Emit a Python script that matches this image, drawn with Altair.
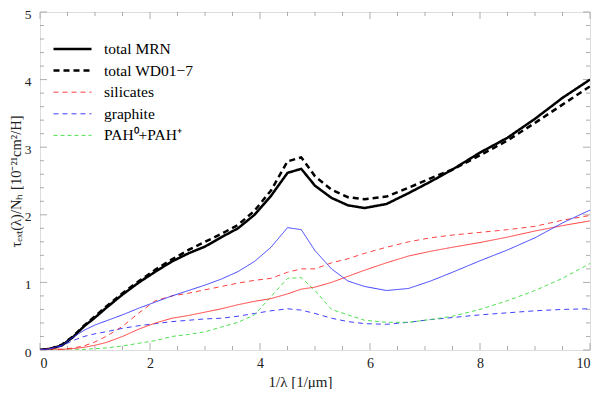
import altair as alt
import pandas as pd

xs = [0, 0.2, 0.4, 0.6, 0.8, 1.0, 1.2, 1.5, 1.8, 2.1, 2.4, 2.7, 3.0, 3.3, 3.6, 3.9,
      4.2, 4.5, 4.75, 5.0, 5.3, 5.6, 5.9, 6.3, 6.7, 7.1, 7.5, 8.0, 8.5, 9.0, 9.5, 10]

total_mrn = [0, 0.02, 0.07, 0.19, 0.35, 0.48, 0.62, 0.82, 1.0, 1.16, 1.31, 1.43, 1.53, 1.67,
             1.8, 2.0, 2.28, 2.62, 2.68, 2.43, 2.25, 2.14, 2.10, 2.16, 2.32, 2.49, 2.67, 2.92,
             3.14, 3.42, 3.73, 4.0]
total_wd = [0, 0.02, 0.08, 0.2, 0.36, 0.5, 0.64, 0.84, 1.02, 1.19, 1.34, 1.48, 1.6, 1.72,
            1.85, 2.06, 2.36, 2.79, 2.85, 2.57, 2.37, 2.26, 2.23, 2.27, 2.4, 2.54, 2.67, 2.88,
            3.1, 3.36, 3.63, 3.9]
sil_mrn = [0, 0.02, 0.01, 0.02, 0.04, 0.07, 0.11, 0.2, 0.31, 0.4, 0.47, 0.51, 0.56, 0.61,
           0.67, 0.72, 0.76, 0.83, 0.9, 0.93, 1.0, 1.09, 1.18, 1.29, 1.39, 1.46, 1.52, 1.59,
           1.67, 1.76, 1.84, 1.91]
sil_wd = [0, 0.0, 0.01, 0.03, 0.06, 0.12, 0.2, 0.35, 0.55, 0.73, 0.8, 0.84, 0.89, 0.94,
          0.99, 1.03, 1.06, 1.15, 1.2, 1.2, 1.29, 1.35, 1.43, 1.52, 1.6, 1.66, 1.7, 1.74,
          1.78, 1.83, 1.92, 1.99]
gra_mrn = [0, 0.02, 0.07, 0.19, 0.29, 0.37, 0.43, 0.52, 0.62, 0.71, 0.8, 0.88, 0.96, 1.05,
           1.16, 1.31, 1.52, 1.81, 1.78, 1.47, 1.2, 1.02, 0.94, 0.88, 0.91, 1.02, 1.15, 1.32,
           1.48, 1.66, 1.88, 2.07]
gra_wd = [0, 0.02, 0.06, 0.14, 0.2, 0.24, 0.27, 0.32, 0.36, 0.39, 0.42, 0.44, 0.46, 0.47,
          0.5, 0.54, 0.58, 0.61, 0.59, 0.54, 0.47, 0.42, 0.39, 0.38, 0.41, 0.45, 0.48, 0.52,
          0.55, 0.58, 0.6, 0.61]
pah = [0, 0, 0, 0, 0.01, 0.02, 0.03, 0.06, 0.1, 0.14, 0.2, 0.23, 0.27, 0.34, 0.41, 0.52,
       0.79, 1.06, 1.07, 0.88, 0.6, 0.52, 0.44, 0.41, 0.41, 0.45, 0.5, 0.6, 0.73, 0.88,
       1.06, 1.28]

series = [
    ("total MRN", total_mrn),
    ("total WD01\u22127", total_wd),
    ("silicates", sil_wd),
    ("graphite", gra_wd),
    ("PAH\u2070+PAH\u207a", pah),
    ("silicates MRN", sil_mrn),
    ("graphite MRN", gra_mrn),
]
legend_names = ["total MRN", "total WD01\u22127", "silicates", "graphite", "PAH\u2070+PAH\u207a"]

rows = []
for name, vals in series:
    for i, (x, y) in enumerate(zip(xs, vals)):
        rows.append({"series": name, "x": x, "y": y, "order": i})
df = pd.DataFrame(rows)

domain = ["total MRN", "total WD01\u22127", "silicates", "graphite", "PAH\u2070+PAH\u207a",
          "silicates MRN", "graphite MRN"]
colors = ["#000000", "#000000", "#ff2a2a", "#2a2aff", "#3ddd3d", "#ff2a2a", "#2a2aff"]
dashes = [[1, 0], [6, 4], [5, 4], [5, 4], [4, 3], [1, 0], [1, 0]]
widths = [2.5, 2.5, 0.9, 0.9, 0.9, 0.9, 0.9]

W, H = 550, 338
FONT = "Liberation Serif, Times New Roman, serif"

x_scale = alt.Scale(domain=[0, 10], nice=False, zero=False)
y_scale = alt.Scale(domain=[0, 5], nice=False, zero=False)

leg = alt.Legend(title=None, orient="none", legendX=12, legendY=28, values=legend_names,
                 symbolType="stroke", symbolSize=1444, labelFont=FONT, labelFontSize=15.5,
                 labelColor="#000", clipHeight=18, rowPadding=3.6, labelOffset=11)

lines = alt.Chart(df).mark_line(clip=True).encode(
    x=alt.X("x:Q", scale=x_scale,
            axis=alt.Axis(title="1/\u03bb [1/\u03bcm]", values=[0, 2, 4, 6, 8, 10], format="d",
                          ticks=False, domain=False, grid=False, labelFont=FONT, labelFontSize=14,
                          labelColor="#222", labelPadding=6, titleFont=FONT, titleFontSize=15,
                          titleFontWeight="normal", titleColor="#222",
                          titleX=260, titleY=36, titleBaseline="alphabetic")),
    y=alt.Y("y:Q", scale=y_scale,
            axis=alt.Axis(title="\u03c4\u2091\u2093\u209c(\u03bb)/N\u2095 [10\u207b\u00b2\u00b9cm\u00b2/H]",
                          values=[0, 1, 2, 3, 4, 5], format="d", ticks=False, domain=False,
                          grid=False, labelFont=FONT, labelFontSize=13.5, labelColor="#222",
                          labelPadding=9, labelOffset=2, titleFont=FONT, titleFontSize=14.5,
                          titleFontWeight="normal", titleColor="#222",
                          titleX=-24, titleY=H / 2, titleBaseline="middle")),
    color=alt.Color("series:N", scale=alt.Scale(domain=domain, range=colors), legend=leg),
    strokeDash=alt.StrokeDash("series:N", scale=alt.Scale(domain=domain, range=dashes), legend=leg),
    strokeWidth=alt.StrokeWidth("series:N", scale=alt.Scale(type="ordinal", domain=domain, range=widths),
                                legend=leg),
    order="order:Q",
)

x_major = [0, 2, 4, 6, 8, 10]
x_minor = [0.5, 1, 1.5, 2.5, 3, 3.5, 4.5, 5, 5.5, 6.5, 7, 7.5, 8.5, 9, 9.5]
y_major = [0, 1, 2, 3, 4, 5]
y_minor = [v / 5 for v in range(26) if v % 5 != 0]

tick_col = "#999999"

def xticks(vals, length):
    d = pd.DataFrame({"v": vals})
    b = alt.Chart(d).mark_rule(color=tick_col, strokeWidth=0.8).encode(
        x=alt.X("v:Q", scale=x_scale), y=alt.value(H), y2=alt.value(H - length))
    t = alt.Chart(d).mark_rule(color=tick_col, strokeWidth=0.8).encode(
        x=alt.X("v:Q", scale=x_scale), y=alt.value(0), y2=alt.value(length))
    return [b, t]

def yticks(vals, length):
    d = pd.DataFrame({"v": vals})
    l = alt.Chart(d).mark_rule(color=tick_col, strokeWidth=0.8).encode(
        y=alt.Y("v:Q", scale=y_scale), x=alt.value(0), x2=alt.value(length))
    r = alt.Chart(d).mark_rule(color=tick_col, strokeWidth=0.8).encode(
        y=alt.Y("v:Q", scale=y_scale), x=alt.value(W), x2=alt.value(W - length))
    return [l, r]

tick_layers = xticks(x_major, 7) + xticks(x_minor, 4) + yticks(y_major, 7) + yticks(y_minor, 4)

chart = alt.layer(*tick_layers, lines).properties(
    width=W, height=H,
    autosize=alt.AutoSizeParams(type="none"),
    padding={"left": 32, "top": 4, "right": 2, "bottom": 39},
).configure_view(stroke="#888888", strokeWidth=1).configure(background="white")

chart.save("out.html", embed_options={"renderer": "svg", "actions": False})
